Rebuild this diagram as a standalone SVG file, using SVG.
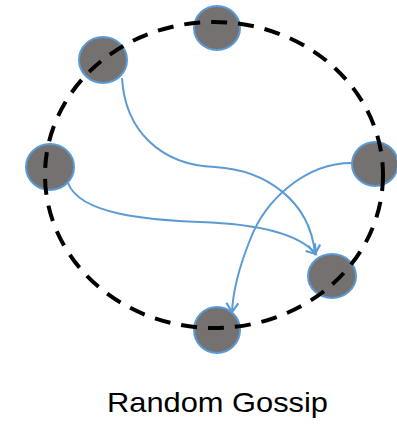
<svg xmlns="http://www.w3.org/2000/svg" width="397" height="425" viewBox="0 0 397 425">
  <style>
    .node { fill: #767171; stroke: #5B9BD5; stroke-width: 2; }
    .ring { fill: none; stroke: #000; stroke-width: 4; stroke-dasharray: 16 11; }
    .link { fill: none; stroke: #5B9BD5; stroke-width: 2; marker-end: url(#arrow); }
    .label { font-family: "Liberation Sans", Arial, sans-serif; font-size: 28px; fill: #000; }
  </style>
  <defs>
    <marker id="arrow" markerUnits="userSpaceOnUse" markerWidth="14" markerHeight="14" viewBox="-10 -7 12 14" refX="0" refY="0" orient="auto">
      <path d="M-9,-6 L0,0 L-9,6" fill="none" stroke="#5B9BD5" stroke-width="2.2" stroke-linejoin="miter"/>
    </marker>
  </defs>
  <rect width="397" height="425" fill="#fff"/>

  <!-- peers -->
  <g id="node-top"><ellipse class="node" cx="217" cy="28" rx="23" ry="22"/></g>
  <g id="node-upper-left"><ellipse class="node" cx="103" cy="60" rx="24" ry="23"/></g>
  <g id="node-left"><ellipse class="node" cx="50" cy="167" rx="24" ry="23"/></g>
  <g id="node-right"><ellipse class="node" cx="375" cy="164" rx="23" ry="22"/></g>
  <g id="node-lower-right"><ellipse class="node" cx="332" cy="276" rx="24" ry="22"/></g>
  <g id="node-bottom"><ellipse class="node" cx="217" cy="330" rx="23" ry="23"/></g>

  <!-- ring of members -->
  <ellipse class="ring" cx="214" cy="175" rx="169" ry="153"/>

  <!-- gossip messages -->
  <g id="connectors">
    <path class="link" d="M122,78 C125,130 160,165 215,167 C265,170 310,200 315,254"/>
    <path class="link" d="M68,183 C80,215 150,220 200,222 C260,224 300,235 316,254"/>
    <path class="link" d="M352,163 C305,163 265,200 250,240 C240,265 233,290 232,312"/>
  </g>

  <text class="label" x="107" y="412" textLength="221" lengthAdjust="spacingAndGlyphs">Random Gossip</text>
</svg>
